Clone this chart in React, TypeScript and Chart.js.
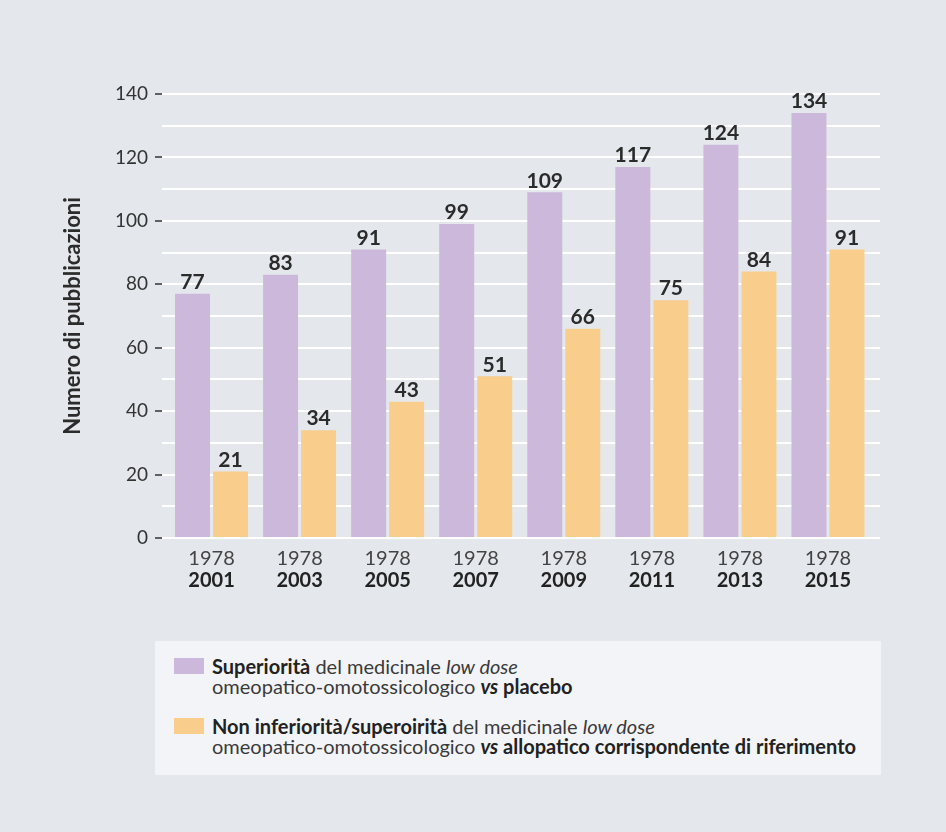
import React, { useEffect, useRef } from "react";
import { Chart, registerables } from "chart.js";

Chart.register(...registerables);

const periodStart = "1978";
const periodEnds = ["2001", "2003", "2005", "2007", "2009", "2011", "2013", "2015"];
const superiorita = [77, 83, 91, 99, 109, 117, 124, 134];
const nonInferiorita = [21, 34, 43, 51, 66, 75, 84, 91];
const yTicks = [0, 20, 40, 60, 80, 100, 120, 140];

const PURPLE = "#cbb8da";
const ORANGE = "#f9cd8c";
const BG = "#e4e8ec";
const FONT = "Lato, 'Open Sans', 'DejaVu Sans', sans-serif";

const valueLabels = {
  id: "valueLabels",
  afterDatasetsDraw(chart: any) {
    const ctx = chart.ctx;
    ctx.save();
    ctx.font = `bold 21px ${FONT}`;
    ctx.fillStyle = "#2b2b2b";
    ctx.textAlign = "center";
    ctx.textBaseline = "bottom";
    chart.data.datasets.forEach((ds: any, i: number) => {
      const meta = chart.getDatasetMeta(i);
      meta.data.forEach((el: any, j: number) => {
        ctx.fillText(String(ds.data[j]), el.x, el.y - 1);
      });
    });
    ctx.restore();
  },
};

// the category axes are inset slightly from the grid, as in the original layout
const insetCategories = {
  id: "insetCategories",
  afterLayout(chart: any) {
    ["x", "x2"].forEach((id) => {
      const s = chart.scales[id];
      if (!s) return;
      s.left = chart.chartArea.left + 5.5;
      s.right = chart.chartArea.right - 8;
      s.width = s.right - s.left;
      s.configure();
    });
  },
};

export default function App() {
  const ref = useRef<HTMLCanvasElement | null>(null);

  useEffect(() => {
    if (!ref.current) return;
    const chart = new Chart(ref.current, {
      type: "bar",
      data: {
        labels: periodEnds.map(() => periodStart),
        datasets: [
          {
            label: "Superiorità",
            data: superiorita,
            backgroundColor: PURPLE,
            barPercentage: 0.921,
            categoryPercentage: 0.863,
            xAxisID: "x",
          },
          {
            label: "Non inferiorità/superoirità",
            data: nonInferiorita,
            backgroundColor: ORANGE,
            barPercentage: 0.921,
            categoryPercentage: 0.863,
            xAxisID: "x",
          },
        ],
      },
      options: {
        animation: false,
        responsive: false,
        maintainAspectRatio: false,
        layout: { padding: { top: 94, right: 66, left: 0, bottom: 0 } },
        plugins: { legend: { display: false }, tooltip: { enabled: false } },
        scales: {
          x: {
            type: "category",
            position: "bottom",
            grid: { display: false, drawTicks: false },
            border: { display: false },
            ticks: {
              color: "#444",
              font: { family: FONT, size: 20, weight: "normal" },
              padding: 9,
              maxRotation: 0,
              autoSkip: false,
            },
            afterFit(scale: any) {
              scale.height = 30;
            },
          },
          x2: {
            type: "category",
            position: "bottom",
            labels: periodEnds,
            grid: { display: false, drawTicks: false },
            border: { display: false },
            ticks: {
              color: "#222",
              font: { family: FONT, size: 20, weight: "bold" },
              padding: 1,
              maxRotation: 0,
              autoSkip: false,
            },
            afterFit(scale: any) {
              scale.height = 42;
            },
          },
          y: {
            min: 0,
            max: 140,
            border: { display: false },
            grid: {
              color: "#ffffff",
              lineWidth: 2,
              drawTicks: true,
              tickLength: 7,
              tickWidth: 1.5,
              tickColor: (c: any) =>
                c.tick && yTicks.includes(c.tick.value) ? "#333" : "rgba(0,0,0,0)",
            },
            ticks: {
              stepSize: 10,
              autoSkip: false,
              padding: 7,
              color: "#333",
              font: { family: FONT, size: 19, weight: "normal" },
              callback: (v: any) => (yTicks.includes(Number(v)) ? String(v) : ""),
            },
            title: {
              display: true,
              text: "Numero di pubblicazioni",
              color: "#2b2b2b",
              font: { family: FONT, size: 22, weight: "bold" },
              padding: { top: 60, bottom: 0 },
            },
            afterFit(scale: any) {
              scale.width = 162;
            },
          },
        },
      },
      plugins: [insetCategories, valueLabels],
    });
    return () => chart.destroy();
  }, []);

  const textReg: React.CSSProperties = { fontWeight: 400, color: "#3a3a3a" };
  const textBold: React.CSSProperties = { fontWeight: 700, color: "#222" };

  return (
    <div style={{ position: "fixed", left: 0, top: 0, width: 946, height: 832, background: BG, fontFamily: FONT }}>
      <canvas ref={ref} width={946} height={610} style={{ position: "absolute", left: 0, top: 0, width: 946, height: 610 }} />
      <div
        style={{
          position: "absolute",
          left: 155,
          top: 641,
          width: 726,
          height: 134,
          background: "#f3f4f7",
          fontSize: 20,
          lineHeight: "20px",
        }}
      >
        <div style={{ position: "absolute", left: 19, top: 17, width: 30, height: 16, background: PURPLE }} />
        <div style={{ position: "absolute", left: 57, top: 15, whiteSpace: "nowrap" }}>
          <span style={textBold}>Superiorità</span>
          <span style={textReg}> del medicinale </span>
          <span style={{ ...textReg, fontStyle: "italic" }}>low dose</span>
          <br />
          <span style={textReg}>omeopatico-omotossicologico </span>
          <span style={{ ...textBold, fontStyle: "italic" }}>vs</span>
          <span style={textBold}> placebo</span>
        </div>
        <div style={{ position: "absolute", left: 19, top: 77, width: 30, height: 16, background: ORANGE }} />
        <div style={{ position: "absolute", left: 57, top: 75, whiteSpace: "nowrap" }}>
          <span style={textBold}>Non inferiorità/superoirità</span>
          <span style={textReg}> del medicinale </span>
          <span style={{ ...textReg, fontStyle: "italic" }}>low dose</span>
          <br />
          <span style={textReg}>omeopatico-omotossicologico </span>
          <span style={{ ...textBold, fontStyle: "italic" }}>vs</span>
          <span style={textBold}> allopatico corrispondente di riferimento</span>
        </div>
      </div>
    </div>
  );
}
